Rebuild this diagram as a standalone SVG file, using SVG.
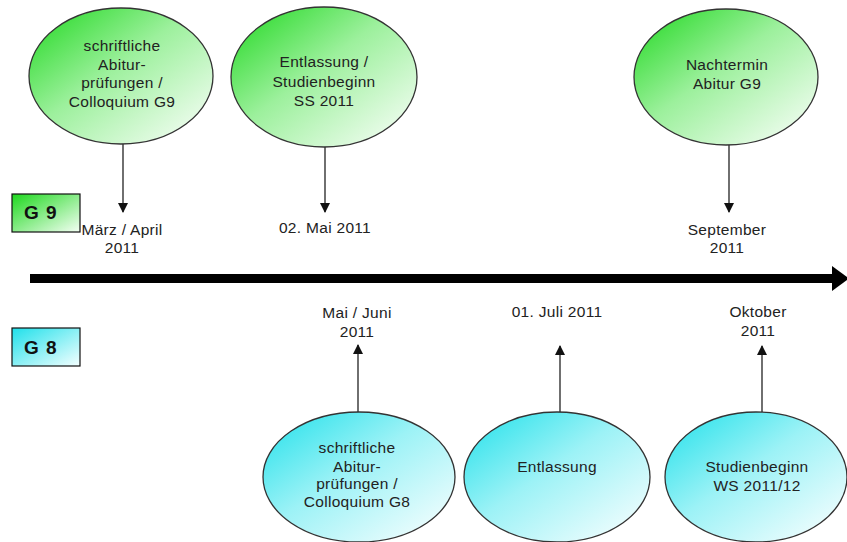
<svg xmlns="http://www.w3.org/2000/svg" width="847" height="542" viewBox="0 0 847 542">
<defs>
<linearGradient id="gG" x1="0" y1="0" x2="1" y2="1">
<stop offset="0" stop-color="#1ed81e"/>
<stop offset="0.45" stop-color="#9cf09c"/>
<stop offset="1" stop-color="#ffffff"/>
</linearGradient>
<linearGradient id="gC" x1="0" y1="0" x2="1" y2="1">
<stop offset="0" stop-color="#1fe0ea"/>
<stop offset="0.45" stop-color="#9cf2f6"/>
<stop offset="1" stop-color="#ffffff"/>
</linearGradient>
<linearGradient id="bG" x1="0" y1="0" x2="1" y2="1">
<stop offset="0" stop-color="#1ed81e"/>
<stop offset="1" stop-color="#f4fff4"/>
</linearGradient>
<linearGradient id="bC" x1="0" y1="0" x2="1" y2="1">
<stop offset="0" stop-color="#1fe0ea"/>
<stop offset="1" stop-color="#f4ffff"/>
</linearGradient>
<marker id="ah" markerWidth="10" markerHeight="12" refX="9" refY="5" orient="auto" markerUnits="userSpaceOnUse">
<path d="M0,0 L10,5 L0,10 Z" fill="#111"/>
</marker>
</defs>
<style>
.eg{fill:url(#gG);stroke:#333;stroke-width:1.3}
.ec{fill:url(#gC);stroke:#333;stroke-width:1.3}
.t{font-family:"Liberation Sans",Arial,sans-serif;font-size:15.5px;letter-spacing:0.3px;fill:#222;text-anchor:middle}
.b{font-family:"Liberation Sans",Arial,sans-serif;font-size:19px;font-weight:bold;letter-spacing:1px;fill:#111}
.c{stroke:#333;stroke-width:1.4;fill:none;marker-end:url(#ah)}
</style>
<rect width="847" height="542" fill="#ffffff"/>

<g id="g9-label">
<rect x="12" y="194" width="68" height="38" fill="url(#bG)" stroke="#111" stroke-width="1.2"/>
<text class="b" x="24" y="219">G 9</text>
</g>
<g id="g8-label">
<rect x="12" y="328" width="68" height="38" fill="url(#bC)" stroke="#111" stroke-width="1.2"/>
<text class="b" x="24" y="354">G 8</text>
</g>

<g id="n-g9-abitur">
<ellipse class="eg" cx="121" cy="76" rx="92" ry="68"/>
<text class="t" x="122" y="51">schriftliche</text>
<text class="t" x="122" y="70">Abitur-</text>
<text class="t" x="122" y="88">prüfungen /</text>
<text class="t" x="122" y="107">Colloquium G9</text>
</g>
<g id="n-g9-entlassung">
<ellipse class="eg" cx="324" cy="77" rx="93" ry="70"/>
<text class="t" x="324" y="67">Entlassung /</text>
<text class="t" x="324" y="87">Studienbeginn</text>
<text class="t" x="324" y="106">SS 2011</text>
</g>
<g id="n-g9-nachtermin">
<ellipse class="eg" cx="726" cy="77" rx="92" ry="68"/>
<text class="t" x="727" y="70">Nachtermin</text>
<text class="t" x="727" y="89">Abitur G9</text>
</g>

<g id="d-g9-maerz">
<text class="t" x="122" y="235">März / April</text>
<text class="t" x="122" y="253">2011</text>
</g>
<g id="d-g9-mai">
<text class="t" x="325" y="233">02. Mai 2011</text>
</g>
<g id="d-g9-sept">
<text class="t" x="727" y="235">September</text>
<text class="t" x="727" y="253">2011</text>
</g>

<g id="d-g8-maijuni">
<text class="t" x="357" y="318">Mai / Juni</text>
<text class="t" x="357" y="337">2011</text>
</g>
<g id="d-g8-juli">
<text class="t" x="557" y="317">01. Juli 2011</text>
</g>
<g id="d-g8-okt">
<text class="t" x="758" y="317">Oktober</text>
<text class="t" x="758" y="336">2011</text>
</g>

<g id="n-g8-abitur">
<ellipse class="ec" cx="359" cy="477" rx="96" ry="65"/>
<text class="t" x="357" y="453">schriftliche</text>
<text class="t" x="357" y="472">Abitur-</text>
<text class="t" x="357" y="489">prüfungen /</text>
<text class="t" x="357" y="507">Colloquium G8</text>
</g>
<g id="n-g8-entlassung">
<ellipse class="ec" cx="557" cy="477" rx="93" ry="65"/>
<text class="t" x="557" y="472">Entlassung</text>
</g>
<g id="n-g8-studienbeginn">
<ellipse class="ec" cx="756" cy="477" rx="91" ry="65"/>
<text class="t" x="757" y="472">Studienbeginn</text>
<text class="t" x="757" y="491">WS 2011/12</text>
</g>

<g id="connectors">
<line class="c" x1="123" y1="144" x2="123" y2="212"/>
<line class="c" x1="325" y1="147" x2="325" y2="212"/>
<line class="c" x1="729" y1="145" x2="729" y2="212"/>
<line class="c" x1="358" y1="412" x2="358" y2="345"/>
<line class="c" x1="560" y1="412" x2="560" y2="346"/>
<line class="c" x1="762" y1="412" x2="762" y2="346"/>
<g id="timeline">
<line x1="30" y1="278.5" x2="834" y2="278.5" stroke="#000" stroke-width="9"/>
<path d="M832,266 L849,278.5 L832,291 Z" fill="#000"/>
</g>
</g>
</svg>
